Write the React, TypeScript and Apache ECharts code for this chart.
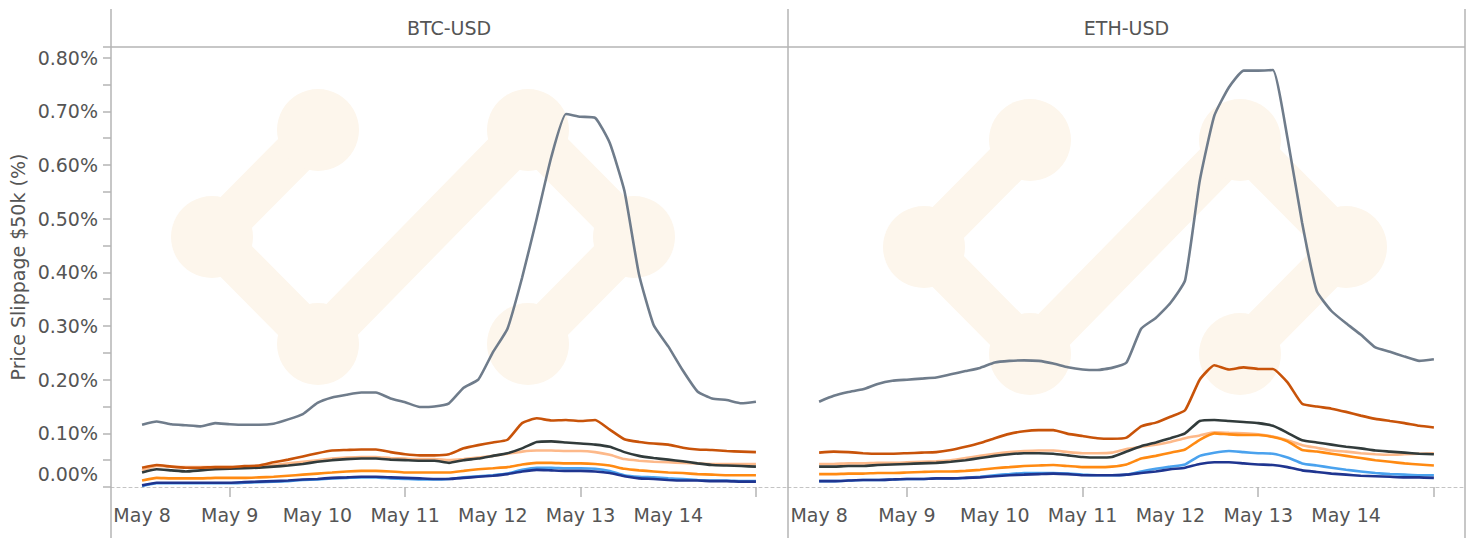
import React, { useEffect, useRef } from "react";
import * as echarts from "echarts";

const FONT = "DejaVu Sans";
const TEXT_COLOR = "#555555";
const FRAME_COLOR = "#b4b4b4";

const PANELS = ["BTC-USD", "ETH-USD"];
const DAY_LABELS = ["May 8", "May 9", "May 10", "May 11", "May 12", "May 13", "May 14"];
const TICK_HOURS = [24, 72, 120, 168];
const Y_TICK_STEP = 0.1;

// sample hours since May 8 00:00
const HOURS = [0, 4, 8, 12, 16, 20, 24, 28, 32, 36, 40, 44, 48, 52, 56, 60, 64, 68, 72, 76, 80, 84,
  88, 92, 96, 100, 104, 108, 112, 116, 120, 124, 128, 132, 136, 140, 144, 148, 152, 156, 160, 164, 168];

// BTC-USD
const BTC_GREY = [0.116, 0.122, 0.117, 0.115, 0.113, 0.119, 0.117, 0.116, 0.116, 0.118, 0.126, 0.136, 0.157, 0.167, 0.172, 0.176, 0.176, 0.165, 0.158, 0.149, 0.150, 0.156,
  0.185, 0.200, 0.251, 0.295, 0.390, 0.500, 0.615, 0.695, 0.690, 0.688, 0.641, 0.552, 0.396, 0.302, 0.262, 0.217, 0.178, 0.165, 0.162, 0.156, 0.159];
const BTC_DORANGE = [0.036, 0.041, 0.038, 0.036, 0.036, 0.037, 0.037, 0.039, 0.040, 0.046, 0.051, 0.057, 0.063, 0.068, 0.069, 0.070, 0.070, 0.065, 0.061, 0.059, 0.059, 0.061,
  0.072, 0.078, 0.083, 0.088, 0.119, 0.128, 0.124, 0.125, 0.123, 0.125, 0.107, 0.089, 0.084, 0.081, 0.079, 0.073, 0.070, 0.069, 0.067, 0.066, 0.065];
const BTC_BLACK = [0.027, 0.033, 0.031, 0.029, 0.031, 0.033, 0.034, 0.035, 0.036, 0.038, 0.040, 0.043, 0.047, 0.050, 0.052, 0.053, 0.053, 0.051, 0.050, 0.049, 0.049, 0.045,
  0.050, 0.053, 0.058, 0.063, 0.072, 0.084, 0.085, 0.083, 0.081, 0.079, 0.075, 0.065, 0.058, 0.054, 0.051, 0.048, 0.044, 0.041, 0.040, 0.039, 0.038];
const BTC_PEACH = [0.031, 0.039, 0.038, 0.037, 0.037, 0.037, 0.037, 0.038, 0.039, 0.041, 0.044, 0.047, 0.050, 0.053, 0.055, 0.056, 0.056, 0.054, 0.053, 0.052, 0.052, 0.050,
  0.052, 0.055, 0.058, 0.062, 0.066, 0.068, 0.068, 0.067, 0.067, 0.065, 0.060, 0.052, 0.049, 0.047, 0.046, 0.045, 0.044, 0.043, 0.043, 0.043, 0.043];
const BTC_ORANGE = [0.012, 0.017, 0.016, 0.016, 0.016, 0.017, 0.017, 0.017, 0.018, 0.019, 0.021, 0.023, 0.025, 0.027, 0.029, 0.030, 0.030, 0.029, 0.027, 0.027, 0.027, 0.027,
  0.030, 0.033, 0.035, 0.037, 0.042, 0.045, 0.045, 0.044, 0.044, 0.043, 0.040, 0.034, 0.031, 0.029, 0.027, 0.026, 0.024, 0.023, 0.022, 0.022, 0.022];
const BTC_LBLUE = [0.002, 0.007, 0.007, 0.007, 0.007, 0.007, 0.007, 0.008, 0.009, 0.010, 0.011, 0.013, 0.014, 0.016, 0.017, 0.018, 0.018, 0.016, 0.015, 0.014, 0.014, 0.015,
  0.018, 0.020, 0.022, 0.025, 0.032, 0.036, 0.036, 0.035, 0.035, 0.034, 0.030, 0.022, 0.019, 0.018, 0.016, 0.015, 0.013, 0.012, 0.012, 0.011, 0.011];
const BTC_DBLUE = [0.003, 0.008, 0.008, 0.008, 0.008, 0.008, 0.008, 0.009, 0.010, 0.011, 0.012, 0.014, 0.015, 0.017, 0.018, 0.019, 0.019, 0.018, 0.017, 0.016, 0.015, 0.015,
  0.017, 0.019, 0.021, 0.024, 0.029, 0.032, 0.031, 0.030, 0.030, 0.029, 0.026, 0.020, 0.016, 0.015, 0.013, 0.012, 0.012, 0.011, 0.011, 0.010, 0.010];

// ETH-USD
const ETH_GREY = [0.159, 0.170, 0.177, 0.182, 0.192, 0.198, 0.200, 0.202, 0.204, 0.210, 0.216, 0.222, 0.232, 0.235, 0.236, 0.235, 0.230, 0.223, 0.219, 0.218, 0.222, 0.232,
  0.295, 0.315, 0.343, 0.385, 0.570, 0.692, 0.745, 0.776, 0.776, 0.777, 0.650, 0.492, 0.365, 0.328, 0.305, 0.284, 0.260, 0.252, 0.243, 0.235, 0.238];
const ETH_DORANGE = [0.064, 0.066, 0.065, 0.063, 0.062, 0.062, 0.063, 0.064, 0.065, 0.069, 0.075, 0.082, 0.091, 0.099, 0.104, 0.106, 0.106, 0.099, 0.095, 0.091, 0.090, 0.092,
  0.113, 0.120, 0.131, 0.143, 0.200, 0.227, 0.219, 0.223, 0.220, 0.220, 0.195, 0.155, 0.150, 0.146, 0.140, 0.133, 0.127, 0.123, 0.119, 0.114, 0.111];
const ETH_BLACK = [0.038, 0.038, 0.039, 0.039, 0.041, 0.042, 0.043, 0.044, 0.045, 0.047, 0.050, 0.054, 0.058, 0.061, 0.063, 0.063, 0.062, 0.059, 0.056, 0.055, 0.056, 0.066,
  0.076, 0.083, 0.091, 0.100, 0.123, 0.125, 0.123, 0.121, 0.119, 0.114, 0.101, 0.087, 0.083, 0.079, 0.075, 0.072, 0.068, 0.066, 0.064, 0.062, 0.061];
const ETH_PEACH = [0.043, 0.043, 0.044, 0.044, 0.045, 0.045, 0.046, 0.047, 0.048, 0.050, 0.054, 0.058, 0.062, 0.065, 0.067, 0.068, 0.068, 0.065, 0.063, 0.063, 0.064, 0.071,
  0.075, 0.079, 0.084, 0.091, 0.096, 0.102, 0.101, 0.100, 0.098, 0.094, 0.087, 0.078, 0.073, 0.068, 0.066, 0.063, 0.061, 0.060, 0.061, 0.062, 0.063];
const ETH_ORANGE = [0.024, 0.024, 0.025, 0.025, 0.026, 0.026, 0.027, 0.028, 0.029, 0.029, 0.030, 0.032, 0.035, 0.037, 0.039, 0.040, 0.041, 0.039, 0.037, 0.037, 0.038, 0.042,
  0.053, 0.058, 0.064, 0.070, 0.088, 0.100, 0.098, 0.097, 0.097, 0.093, 0.085, 0.069, 0.066, 0.062, 0.058, 0.054, 0.050, 0.047, 0.044, 0.042, 0.040];
const ETH_LBLUE = [0.011, 0.011, 0.012, 0.013, 0.013, 0.014, 0.015, 0.015, 0.016, 0.016, 0.017, 0.019, 0.022, 0.024, 0.026, 0.026, 0.026, 0.025, 0.023, 0.022, 0.022, 0.023,
  0.029, 0.034, 0.038, 0.042, 0.058, 0.064, 0.067, 0.065, 0.063, 0.062, 0.055, 0.044, 0.040, 0.036, 0.032, 0.029, 0.026, 0.024, 0.023, 0.022, 0.022];
const ETH_DBLUE = [0.011, 0.011, 0.012, 0.013, 0.013, 0.014, 0.015, 0.015, 0.016, 0.016, 0.017, 0.018, 0.020, 0.022, 0.023, 0.024, 0.025, 0.024, 0.022, 0.022, 0.022, 0.023,
  0.026, 0.029, 0.033, 0.036, 0.043, 0.046, 0.046, 0.044, 0.042, 0.041, 0.037, 0.031, 0.028, 0.025, 0.023, 0.021, 0.020, 0.019, 0.018, 0.018, 0.017];

// draw order: first is drawn at the bottom
const SERIES_STYLE = [
  { key: "grey", color: "#6f7c8b" },
  { key: "peach", color: "#fdb98a" },
  { key: "lblue", color: "#4aa2ee" },
  { key: "orange", color: "#ff8a12" },
  { key: "dblue", color: "#1f3590" },
  { key: "black", color: "#313b3b" },
  { key: "dorange", color: "#c85309" },
];
const PANEL_DATA: Record<string, number[]>[] = [
  { grey: BTC_GREY, peach: BTC_PEACH, lblue: BTC_LBLUE, orange: BTC_ORANGE, dblue: BTC_DBLUE, black: BTC_BLACK, dorange: BTC_DORANGE },
  { grey: ETH_GREY, peach: ETH_PEACH, lblue: ETH_LBLUE, orange: ETH_ORANGE, dblue: ETH_DBLUE, black: ETH_BLACK, dorange: ETH_DORANGE },
];

// category axis: half-hour slots from -8.5h to 176.5h (padding around the week)
const PAD_H = 8.5;
const CATEGORIES: string[] = [];
for (let h = -PAD_H; h <= 168 + PAD_H + 1e-9; h += 0.5) CATEGORIES.push(String(h));
const hourOf = (index: number) => index / 2 - PAD_H;
const indexOf = (h: number) => Math.round((h + PAD_H) * 2);

// layout
const W = 1478;
const H = 538;
const GRID_TOP = 47;
const GRID_BOTTOM = 487;
const PANEL_X = [[111, 787], [788, 1465]];
const HEADER_TOP = 9;
const WATERMARK_CENTERS = [[423, 237], [1135, 247]];
const WM_NODES = [[-105, -107], [-211, 0], [-105, 107], [105, -107], [211, 0], [105, 107]];
const WM_EDGES = [[0, 1], [1, 2], [2, 3], [3, 4], [4, 5]];
const WM_COLOR = "#fdf6ec";

export default function App() {
  const ref = useRef<HTMLDivElement>(null);
  useEffect(() => {
    document.body.style.margin = "0";
    if (!ref.current) return;
    const chart = echarts.init(ref.current, null, { renderer: "svg" });

    const grids = PANEL_X.map(([l, r]) => ({
      left: l,
      width: r - l,
      top: GRID_TOP,
      height: GRID_BOTTOM - GRID_TOP,
      containLabel: false,
    }));

    const xAxes = PANEL_X.map((_, gi) => ({
      type: "category",
      gridIndex: gi,
      data: CATEGORIES,
      boundaryGap: false,
      axisLine: { show: true, lineStyle: { color: "#c4c4c4", width: 1, type: [3, 3] } },
      axisTick: {
        show: true,
        length: 10,
        interval: (index: number) => TICK_HOURS.includes(hourOf(index)),
        lineStyle: { color: FRAME_COLOR, width: 1.5 },
      },
      axisLabel: {
        interval: (index: number) => {
          const h = hourOf(index);
          return h >= 0 && h % 24 === 0 && h / 24 < DAY_LABELS.length;
        },
        formatter: (_v: string, index: number) => {
          const h = hourOf(index);
          return DAY_LABELS[h / 24] ?? "";
        },
        fontSize: 19,
        fontFamily: FONT,
        color: TEXT_COLOR,
        margin: 18,
      },
      splitLine: { show: false },
    }));

    const yAxes = PANEL_X.map((_, gi) => ({
      type: "value",
      gridIndex: gi,
      min: 0,
      max: 0.82,
      interval: Y_TICK_STEP,
      show: gi === 0,
      name: gi === 0 ? "Price Slippage $50k (%)" : "",
      nameLocation: "middle",
      nameGap: 84,
      nameTextStyle: { fontSize: 19, fontFamily: FONT, color: TEXT_COLOR },
      axisLine: { show: false },
      axisTick: { show: true, length: 8, lineStyle: { color: FRAME_COLOR, width: 1.5 } },
      minorTick: { show: true, splitNumber: 2, length: 8, lineStyle: { color: FRAME_COLOR, width: 1.5 } },
      splitLine: { show: false },
      minorSplitLine: { show: false },
      axisLabel: {
        margin: 13,
        fontSize: 19,
        fontFamily: FONT,
        color: TEXT_COLOR,
        showMaxLabel: false,
        formatter: (v: number) => (Math.abs(v) < 1e-9 ? "{z|0.00%}" : v.toFixed(2) + "%"),
        rich: { z: { fontSize: 19, fontFamily: FONT, color: TEXT_COLOR, padding: [0, 0, 27, 0] } },
      },
    }));

    const series: any[] = [];
    PANEL_DATA.forEach((panel, gi) => {
      SERIES_STYLE.forEach((s) => {
        series.push({
          type: "line",
          name: `${PANELS[gi]} ${s.key}`,
          xAxisIndex: gi,
          yAxisIndex: gi,
          data: HOURS.map((h, i) => [indexOf(h), panel[s.key][i]]),
          showSymbol: false,
          symbol: "none",
          smooth: 0.15,
          lineStyle: { color: s.color, width: 2.6 },
          itemStyle: { color: s.color },
          z: 3,
        });
      });
    });

    const graphic: any[] = [];
    WATERMARK_CENTERS.forEach(([cx, cy]) => {
      const children: any[] = [];
      WM_EDGES.forEach(([a, b]) => {
        children.push({
          type: "line",
          shape: { x1: WM_NODES[a][0], y1: WM_NODES[a][1], x2: WM_NODES[b][0], y2: WM_NODES[b][1] },
          style: { stroke: WM_COLOR, lineWidth: 44, lineCap: "round" },
          silent: true,
        });
      });
      WM_NODES.forEach(([x, y]) => {
        children.push({ type: "circle", shape: { cx: x, cy: y, r: 41 }, style: { fill: WM_COLOR }, silent: true });
      });
      graphic.push({ type: "group", x: cx, y: cy, z: -10, silent: true, children });
    });
    // frame lines
    [PANEL_X[0][0], PANEL_X[1][0], PANEL_X[1][1]].forEach((x) => {
      graphic.push({
        type: "line",
        shape: { x1: x, y1: HEADER_TOP, x2: x, y2: H },
        style: { stroke: FRAME_COLOR, lineWidth: 1.5 },
        z: 20,
        silent: true,
      });
    });
    graphic.push({
      type: "line",
      shape: { x1: PANEL_X[0][0], y1: GRID_TOP, x2: PANEL_X[1][1], y2: GRID_TOP },
      style: { stroke: FRAME_COLOR, lineWidth: 1.5 },
      z: 20,
      silent: true,
    });
    PANEL_X.forEach(([l, r], gi) => {
      graphic.push({
        type: "text",
        x: (l + r) / 2,
        y: (HEADER_TOP + GRID_TOP) / 2,
        style: { text: PANELS[gi], fontSize: 19, fontFamily: FONT, fill: TEXT_COLOR, align: "center", verticalAlign: "middle" },
        z: 20,
        silent: true,
      });
    });

    chart.setOption({
      animation: false,
      backgroundColor: "#ffffff",
      grid: grids,
      xAxis: xAxes,
      yAxis: yAxes,
      series,
      graphic,
    });
    return () => chart.dispose();
  }, []);
  return <div ref={ref} style={{ position: "absolute", left: 0, top: 0, width: W, height: H }} />;
}
